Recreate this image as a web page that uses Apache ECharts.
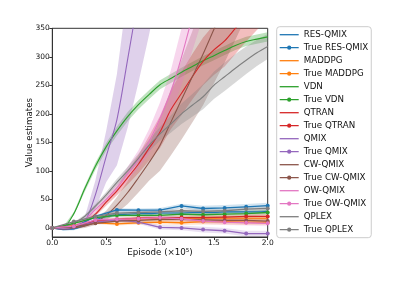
<!DOCTYPE html>
<html><head><meta charset="utf-8">
<script src="https://cdn.jsdelivr.net/npm/echarts@6/dist/echarts.min.js"></script>
<style>html,body{margin:0;padding:0;background:#fff}#c{width:416px;height:285px}</style>
</head><body><div id="c"></div>
<script>
// x positions (Episode ×10^5)
const X_EST = [0,0.1,0.2,0.3,0.4,0.5,0.6,0.7,0.8,0.9,1.0,1.1,1.2,1.3,1.4,1.5,1.6,1.7,1.8,1.9,2.0];
const X_TRUE = [0,0.2,0.4,0.6,0.8,1.0,1.2,1.4,1.6,1.8,2.0];
const Y_TICKS = [0,50,100,150,200,250,300,350];

// estimated values (mean) and half band widths
const RES_QMIX      = [0,-3,-2,5,14,20,23,24,25,25,26,26,26,27,27,27,28,28,28,28,29];
const RES_QMIX_BAND = [0,1,2,2,3,3,3,3,3,3,3,3,3,3,3,3,3,3,3,3,3];
const MADDPG        = [0,1,4,8,11,13,14,15,15,16,16,16,16,17,17,17,17,17,17,17,17];
const MADDPG_BAND   = [0,1,2,2,3,3,3,3,3,3,3,3,3,3,3,3,3,3,3,3,3];
const VDN           = [0,1,25,68,108,142,170,195,216,234,251,262,273,283,293,302,311,320,327,331,335];
const VDN_BAND      = [0,1,3,5,6,7,8,8,8,8,8,8,8,8,8,8,8,8,8,8,8];
const QTRAN         = [0,-1,2,10,24,45,65,88,112,140,168,207,236,265,292,312,328,350,372,392,410];
const QTRAN_BAND    = [0,1,2,3,4,6,8,12,16,22,28,34,38,40,42,44,45,45,45,45,45];
const QMIX          = [0,-2,0,10,58,125,190,296,405,510,615];
const QMIX_BAND     = [0,1,3,8,25,45,80,120,150,170,180];
const CW_QMIX       = [0,-2,0,3,10,22,40,62,88,115,145,185,225,265,305,348,390,430,470,510,550];
const CW_QMIX_BAND  = [0,1,2,3,5,8,14,20,26,32,45,58,70,80,90,95,100,100,100,100,100];
const OW_QMIX       = [0,-1,2,14,32,50,70,95,120,152,192,238,300,370,440];
const OW_QMIX_BAND  = [0,1,2,3,4,6,8,12,16,22,28,38,50,60,70];
const QPLEX         = [0,2,8,20,38,58,80,100,122,145,165,182,200,215,230,250,265,280,294,307,318];
const QPLEX_BAND    = [0,1,2,3,4,5,6,7,8,10,12,15,18,20,22,24,25,25,24,23,22];

// true values (markers)
const TRUE_RES_QMIX = [0,1,20,31.5,31,31,38.5,34,35,37,39];
const TRUE_MADDPG   = [0,3,9,7,9,10,9,11,11,10,10];
const TRUE_VDN      = [0,8,18,22,22,22,24,23,24,25,27];
const TRUE_QTRAN    = [0,3,12,15,17,18,18,18,19,20,20];
const TRUE_QMIX     = [0,2,10,14,10,1,0,-3,-5,-10,-10];
const TRUE_CW_QMIX  = [0,2,8,12,13,15,15,14,13,13,12];
const TRUE_OW_QMIX  = [0,3,14,15,16,18,16,12,10,9,8];
const TRUE_QPLEX    = [0,11,20,26,27,28,30,29,30,33,34];
const TRUE_BAND     = [0,1,2,3,3,4,4,5,5,5,5];

const METHODS = [
  {name:'RES-QMIX', color:'#1f77b4', est:RES_QMIX, band:RES_QMIX_BAND, tru:TRUE_RES_QMIX},
  {name:'MADDPG',   color:'#ff7f0e', est:MADDPG,   band:MADDPG_BAND,   tru:TRUE_MADDPG},
  {name:'VDN',      color:'#2ca02c', est:VDN,      band:VDN_BAND,      tru:TRUE_VDN},
  {name:'QTRAN',    color:'#d62728', est:QTRAN,    band:QTRAN_BAND,    tru:TRUE_QTRAN},
  {name:'QMIX',     color:'#9467bd', est:QMIX,     band:QMIX_BAND,     tru:TRUE_QMIX},
  {name:'CW-QMIX',  color:'#8c564b', est:CW_QMIX,  band:CW_QMIX_BAND,  tru:TRUE_CW_QMIX},
  {name:'OW-QMIX',  color:'#e377c2', est:OW_QMIX,  band:OW_QMIX_BAND,  tru:TRUE_OW_QMIX},
  {name:'QPLEX',    color:'#7f7f7f', est:QPLEX,    band:QPLEX_BAND,    tru:TRUE_QPLEX}
];

function bandSeries(id, xs, mean, half, color, op) {
  return {
    name:id, type:'custom', silent:true, z:1,
    data:[[xs[0], mean[0]]],
    renderItem:function(params, api){
      const up = mean.map((v,i)=>api.coord([xs[i], v + half[i]]));
      const dn = mean.map((v,i)=>api.coord([xs[i], v - half[i]])).reverse();
      const cs = params.coordSys;
      return {type:'polygon', shape:{points:up.concat(dn)},
        style:{fill:color, opacity:op},
        clipPath:{type:'rect', shape:{x:cs.x, y:cs.y, width:cs.width, height:cs.height}}};
    }
  };
}

const LINE_ICON = 'path://M0,0L19,0L19,1.3L0,1.3Z';
const DOT_ICON = 'path://M0,3.35L19,3.35L19,4.65L0,4.65Z M11.6,4A2.1,2.1 0 1 1 7.4,4A2.1,2.1 0 1 1 11.6,4Z';

const series = [];
const legendData = [];
METHODS.forEach(m => {
  series.push(bandSeries('b_'+m.name, X_EST, m.est, m.band, m.color, 0.3));
  series.push({name:m.name, type:'line', symbol:'none', smooth:0.3, clip:true, z:2,
    data:m.est.map((v,i)=>[X_EST[i], v]),
    lineStyle:{color:m.color, width:1.1}, itemStyle:{color:m.color}});
  series.push(bandSeries('bt_'+m.name, X_TRUE, m.tru, TRUE_BAND, m.color, 0.2));
  series.push({name:'True '+m.name, type:'line', symbol:'circle', symbolSize:4, showSymbol:true, clip:true, z:3,
    data:m.tru.map((v,i)=>[X_TRUE[i], v]),
    lineStyle:{color:m.color, width:1.3}, itemStyle:{color:m.color}});
  legendData.push({name:m.name, icon:LINE_ICON}, {name:'True '+m.name, icon:DOT_ICON});
});

const FONT = 'DejaVu Sans';
const chart = echarts.init(document.getElementById('c'), null, {renderer:'canvas'});
chart.setOption({
  animation:false,
  textStyle:{fontFamily:FONT},
  grid:{left:52.3, top:28.3, width:215.4, height:208.7, show:true, borderColor:'#333', borderWidth:1, backgroundColor:'transparent'},
  xAxis:{type:'value', min:0, max:2, interval:0.5,
    name:'Episode (×10⁵)', nameLocation:'middle', nameGap:11, nameMoveOverlap:false,
    nameTextStyle:{fontSize:8.7, color:'#111', fontFamily:FONT, verticalAlign:'top'},
    axisLine:{show:true, onZero:false, lineStyle:{color:'#333', width:1}},
    axisTick:{show:true, inside:false, length:3, lineStyle:{color:'#333'}},
    axisLabel:{fontSize:7.5, color:'#111', margin:2.5, formatter:v=>v.toFixed(1), fontFamily:FONT},
    splitLine:{show:false}},
  yAxis:{type:'value', min:-16, max:350,
    name:'Value estimates', nameLocation:'middle', nameGap:18, nameMoveOverlap:false,
    nameTextStyle:{fontSize:8.7, color:'#111', fontFamily:FONT, verticalAlign:'bottom'},
    axisLine:{show:true, onZero:false, lineStyle:{color:'#333', width:1}},
    axisTick:{show:true, inside:false, length:3, customValues:Y_TICKS, lineStyle:{color:'#333'}},
    axisLabel:{fontSize:7.5, color:'#111', margin:2.5, customValues:Y_TICKS, fontFamily:FONT},
    splitLine:{show:false}},
  legend:{data:legendData, orient:'vertical', left:276.7, top:26.7,
    itemWidth:19, itemHeight:8, itemGap:3, padding:[3,3,3,3],
    borderColor:'#ccc', borderWidth:1, borderRadius:3, backgroundColor:'#fff',
    textStyle:{fontSize:8.7, color:'#111', lineHeight:10, fontFamily:FONT},
    selectedMode:false},
  series:series
});
</script></body></html>
